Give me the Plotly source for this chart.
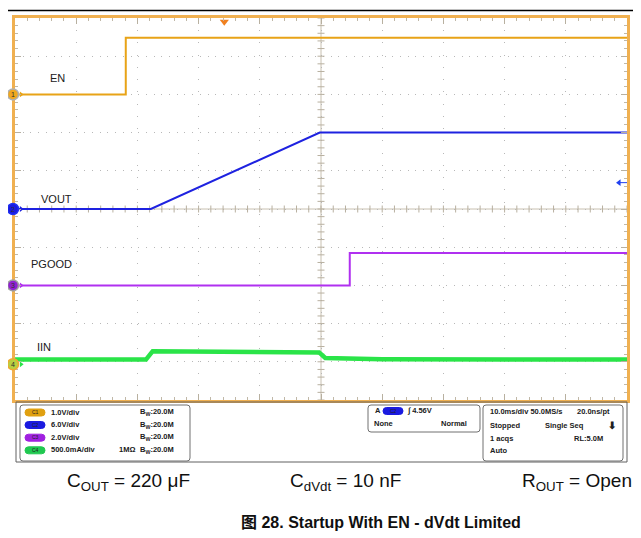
import numpy as np
import plotly.graph_objects as go

# ---------------- data (time in ms, 10 ms/div) ----------------
time_en = [0, 18.1, 18.1, 100]
en_v = [0, 0, 1.48, 1.48]            # EN, 1.0 V/div
time_vout = [0, 22.2, 49.8, 100]
vout_v = [0, 0, 12.0, 12.0]          # VOUT, 6.0 V/div
time_pg = [0, 54.7, 54.7, 100]
pg_v = [0, 0, 1.7, 1.7]              # PGOOD, 2.0 V/div
time_iin = [0, 21.4, 22.5, 35, 49.7, 50.7, 60, 100]
iin_ma = [61, 61, 172, 166, 155, 82, 65, 61]   # IIN, 500 mA/div

ch_names = ["EN", "VOUT", "PGOOD", "IIN"]
ch_scale = [1.0, 6.0, 2.0, 500.0]      # units per division
ch_ground = [8.0, 5.0, 3.0, 0.935]     # ground marker position (div)
ch_colors = ["#E8A317", "#1E22E0", "#B030F0", "#2AE448"]

info_rows = ["1.0V/div", "6.0V/div", "2.0V/div", "500.0mA/div"]
pill_colors = ["#E0A010", "#1A1AE0", "#A020E0", "#20C850"]

# reference pixel geometry (the page body adds an 8px margin, compensated below)
OFF = 8
W, H = 641, 538
L, R, T, B = 15, 627, 15, 400

def px2x(px):
    return (px - L) / (R - L)

def py2y(py):
    return (B - py) / (B - T)

def pos(vals, k):
    return [ch_ground[k] + v / ch_scale[k] for v in vals]

fig = go.Figure()

def ann(px, py, text, size=7.5, xanchor="center", color="#202020", family="Liberation Sans"):
    fig.add_annotation(xref="paper", yref="paper", x=px2x(px), y=py2y(py), text=text,
                       showarrow=False, xanchor=xanchor, yanchor="middle",
                       font=dict(size=size, color=color, family=family))

def rrect(x0, y0, x1, y1, r, color, width=1, fill=None):
    # rounded rectangle in reference pixels, using pixel-sized shape anchored at plot bottom-left
    X0, X1 = x0 - L, x1 - L
    Y0, Y1 = B - y1, B - y0
    p = (f"M{X0+r},{Y0} L{X1-r},{Y0} Q{X1},{Y0} {X1},{Y0+r} L{X1},{Y1-r} Q{X1},{Y1} {X1-r},{Y1} "
         f"L{X0+r},{Y1} Q{X0},{Y1} {X0},{Y1-r} L{X0},{Y0+r} Q{X0},{Y0} {X0+r},{Y0} Z")
    d = dict(type="path", path=p, xref="paper", yref="paper", xsizemode="pixel", ysizemode="pixel",
             xanchor=0, yanchor=0, line=dict(color=color, width=width))
    if fill:
        d["fillcolor"] = fill
    return d

# center cross tick marks
xt = np.arange(0, 100.01, 2)
fig.add_trace(go.Scatter(x=xt, y=[5] * len(xt), mode="markers", hoverinfo="skip",
                         marker=dict(symbol="line-ns", size=5, line=dict(color="#B8B0A0", width=1))))
yt = np.arange(0, 10.01, 0.2)
fig.add_trace(go.Scatter(x=[50] * len(yt), y=yt, mode="markers", hoverinfo="skip",
                         marker=dict(symbol="line-ew", size=5, line=dict(color="#B8B0A0", width=1))))

series = [(time_en, en_v, 2), (time_vout, vout_v, 2), (time_pg, pg_v, 2), (time_iin, iin_ma, 4.5)]
for k, (t, v, w) in enumerate(series):
    fig.add_trace(go.Scatter(x=t, y=pos(v, k), mode="lines", name=ch_names[k],
                             line=dict(color=ch_colors[k], width=w)))

shapes = []
# channel markers at left edge
mk_fill = ["#F0A820", "#1A1AE0", "#9020D0", "#B8D040"]
mk_line = ["#B0B0B0", "#2030F0", "#A0A0A0", "#F0A830"]
for k in range(4):
    shapes.append(dict(type="circle", xref="paper", yref="y", xsizemode="pixel", ysizemode="pixel",
                       xanchor=px2x(13), yanchor=ch_ground[k], x0=-5.5, x1=5.5, y0=-5.5, y1=5.5,
                       fillcolor=mk_fill[k], line=dict(color=mk_line[k], width=1.5)))
    fig.add_annotation(xref="paper", yref="y", x=px2x(13), y=ch_ground[k], text=str(k + 1),
                       showarrow=False, xanchor="center", yanchor="middle",
                       font=dict(size=7, color="#303030", family="Liberation Sans"))
fig.add_trace(go.Scatter(x=[1.0] * 4, y=ch_ground, mode="markers", cliponaxis=False, hoverinfo="skip",
                         marker=dict(symbol="triangle-right", size=5, color=ch_colors)))
# trigger position marker (top) and trigger level arrow (right)
fig.add_trace(go.Scatter(x=[34.2], y=[9.9], mode="markers", cliponaxis=False, hoverinfo="skip",
                         marker=dict(symbol="triangle-down", size=8, color="#F08020")))
fig.add_trace(go.Scatter(x=[98.7, 100], y=[5.69, 5.69], mode="lines", cliponaxis=False, hoverinfo="skip",
                         line=dict(color="#2040F0", width=1)))
fig.add_trace(go.Scatter(x=[98.7], y=[5.69], mode="markers", cliponaxis=False, hoverinfo="skip",
                         marker=dict(symbol="triangle-left", size=6, color="#2040F0")))

# channel labels
lab_pos = [(6.9, 8.44), (6.7, 5.25), (6.0, 3.57), (4.7, 1.38)]
for name, (x, y) in zip(ch_names, lab_pos):
    fig.add_annotation(x=x, y=y, text=name, showarrow=False, xanchor="center", yanchor="middle",
                       font=dict(size=11, color="#202020", family="Liberation Sans"))

# solid center lines
shapes.append(dict(type="line", xref="x", yref="y", x0=0, x1=100, y0=5, y1=5,
                   line=dict(color="#C8C0B0", width=1), layer="below"))
shapes.append(dict(type="line", xref="x", yref="y", x0=50, x1=50, y0=0, y1=10,
                   line=dict(color="#C8C0B0", width=1), layer="below"))
# top black rule
shapes.append(dict(type="line", xref="paper", yref="paper", x0=px2x(0), x1=px2x(641),
                   y0=py2y(7.5), y1=py2y(7.5), line=dict(color="black", width=1.5)))
# info panel frame and boxes
shapes.append(rrect(16, 402, 627, 462, 0, "#606060", 1))
shapes.append(rrect(20, 405, 190, 461, 3, "#707070", 1))
shapes.append(rrect(368, 405, 480, 432, 3, "#707070", 1))
shapes.append(rrect(483, 405, 623, 461, 3, "#707070", 1))

row_y = [412.5, 425, 437.7, 450.3]
for i, (txt, c) in enumerate(zip(info_rows, pill_colors)):
    yy = row_y[i]
    shapes.append(rrect(25, yy - 3.5, 45, yy + 3.5, 3.5, c, 1, c))
    ann(35, yy, f"C{i+1}", size=5)
    ann(48.5, yy, f"<b>{txt}</b>", xanchor="left")
    ann(138, yy, "<b>B<sub>W</sub>:20.0M</b>", xanchor="left")
ann(117, 450.3, "<b>1MΩ</b>", xanchor="left")

# trigger box
ann(373, 411, "<b>A</b>", xanchor="left")
shapes.append(rrect(383, 407.5, 403, 414.5, 3.5, "#1A1AE0", 1, "#1A1AE0"))
ann(393, 411, "C2", size=5)
ann(405, 411, "<b>∫ 4.56V</b>", xanchor="left")
ann(372, 423.3, "<b>None</b>", xanchor="left")
ann(469, 423.3, "<b>Normal</b>", xanchor="right")

# acquisition box
acq_left = ["10.0ms/div 50.0MS/s", "Stopped", "1 acqs", "Auto"]
for txt, yy in zip(acq_left, [412, 425.7, 438.5, 451]):
    ann(488, yy, f"<b>{txt}</b>", xanchor="left")
ann(612, 412, "<b>20.0ns/pt</b>", xanchor="right")
ann(543, 425.7, "<b>Single Seq</b>", xanchor="left")
ann(612, 426, "<b>⬇</b>", size=10)
ann(605, 438.5, "<b>RL:5.0M</b>", xanchor="right")

# captions
for txt, cx in [("C<sub>OUT</sub> = 220 μF", 128), ("C<sub>dVdt</sub> = 10 nF", 345),
                ("R<sub>OUT</sub> = Open", 577)]:
    ann(cx, 483, txt, size=19, color="#101010")
ann(381, 523, "<b>图 28. Startup With EN - dVdt Limited</b>", size=16, color="#101010",
    family="Liberation Sans, Noto Sans CJK SC")

axis_common = dict(showticklabels=False, showline=True, linecolor="#F0B050", linewidth=2.5,
                   mirror="ticks", ticks="inside", ticklen=6, tickcolor="#B8B0A0", zeroline=False,
                   gridcolor="#B8B8B8", gridwidth=1)
fig.update_xaxes(range=[0, 100], dtick=10, griddash="1px,11.24px",
                 minor=dict(dtick=2, ticks="inside", ticklen=3, tickcolor="#C0B8A8", showgrid=False),
                 **axis_common)
fig.update_yaxes(range=[0, 10], dtick=1, griddash="1px,6.7px",
                 minor=dict(dtick=0.2, ticks="inside", ticklen=3, tickcolor="#C0B8A8", showgrid=False),
                 **axis_common)

fig.update_layout(width=W - OFF, height=H - OFF,
                  margin=dict(l=L - OFF, r=W - R, t=T - OFF, b=H - B),
                  paper_bgcolor="white", plot_bgcolor="white", showlegend=False, shapes=shapes)

fig.write_html("out.html")
